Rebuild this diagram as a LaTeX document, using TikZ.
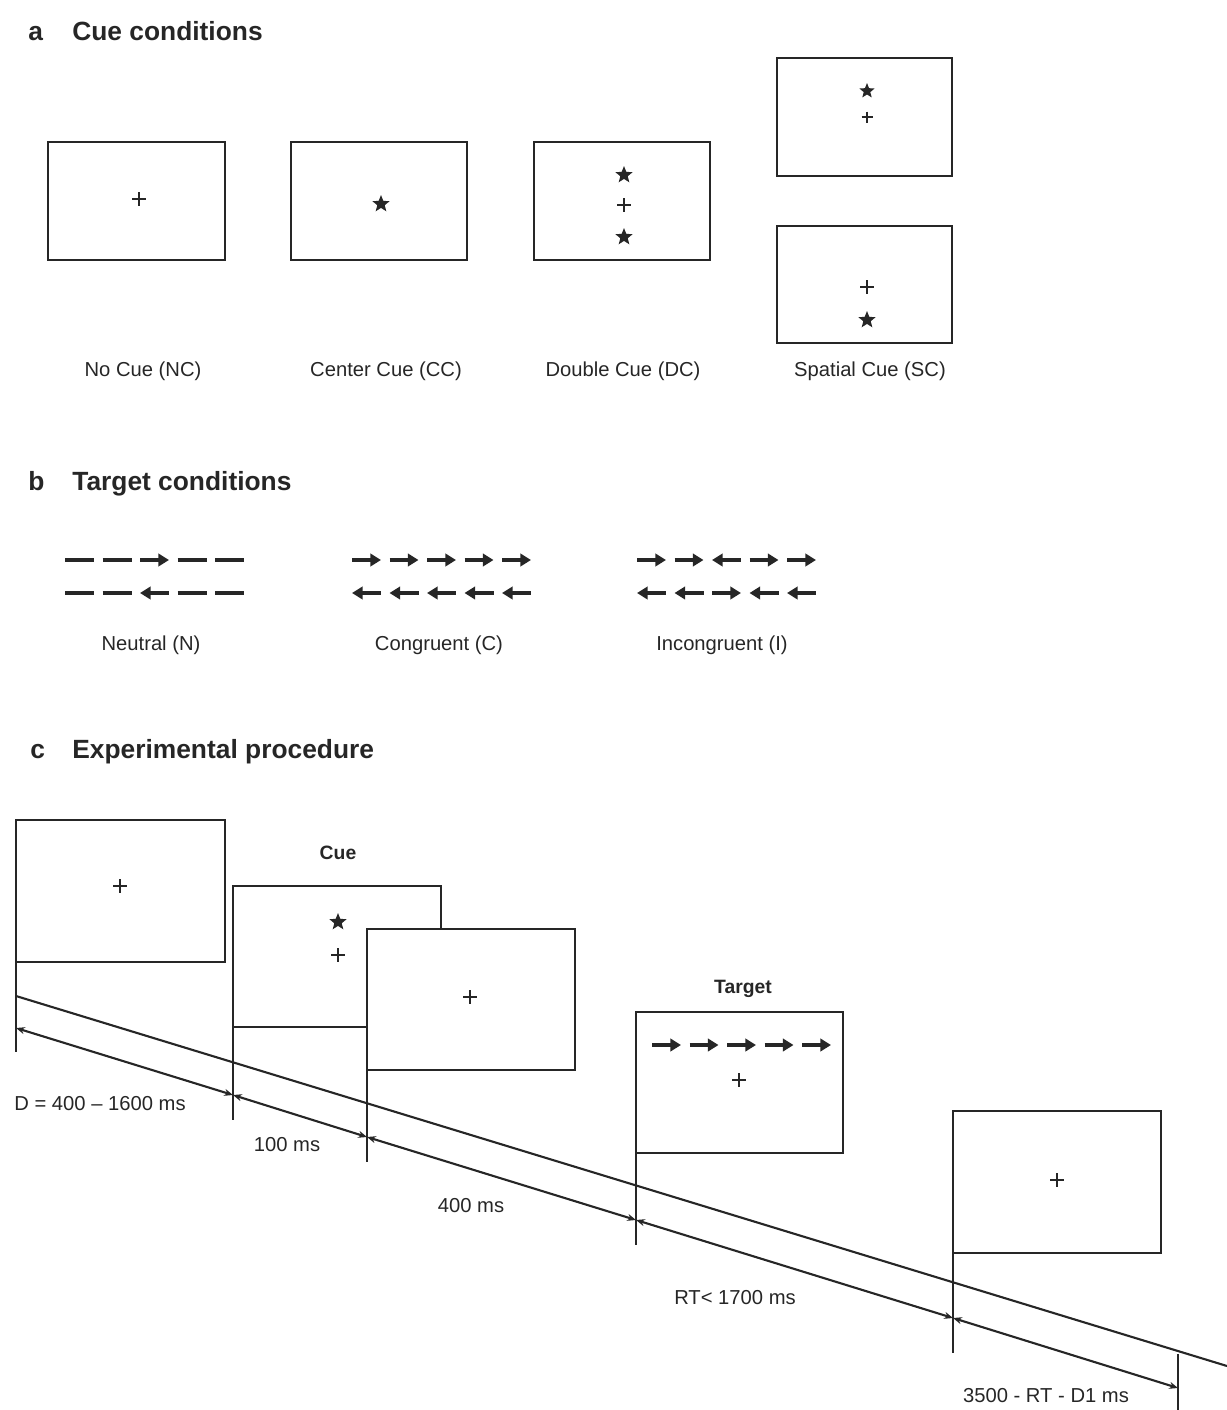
\documentclass[tikz,border=0pt]{standalone}
\usepackage{fontspec}
\setmainfont{Liberation Sans}
\usetikzlibrary{arrows.meta,shapes.geometric}
\newcommand\plusat[3]{\draw[pls] (#1-#3,#2) -- (#1+#3,#2) (#1,#2-#3) -- (#1,#2+#3);}
\newcommand\flankrow[3]{\foreach \s [count=\i from 0] in {#3} {\draw[fk,\s] ({#1+\i*37.5},#2) -- ++(29,0);}}
\newcommand\scrn[5]{\node[scr, minimum width={(#4-#2)*0.02cm}, minimum height={(#5-#3)*0.02cm}] (#1) at ({(#2+#4)/2},{(#3+#5)/2}) {};}
\begin{document}
\begin{tikzpicture}[x=0.02cm,y=-0.02cm,
  scr/.style={draw=black!85, line width=1.3pt, fill=white, inner sep=0pt, outer sep=0pt},
  lbl/.style={font=\fontsize{11.5}{13}\selectfont, text=black!85, inner sep=0pt, anchor=base},
  blbl/.style={font=\fontsize{11}{13}\selectfont\bfseries, text=black!85, inner sep=0pt, anchor=base},
  hd/.style={font=\fontsize{15}{18}\selectfont\bfseries, text=black!85, inner sep=0pt, anchor=base west},
  st/.style={star, star points=5, star point ratio=2.3, fill=black!85, draw=none, inner sep=0pt, minimum size=0.36cm},
  sst/.style={st, minimum size=0.32cm},
  pls/.style={line width=1.4pt, draw=black!85},
  fk/.style={line width=1.8pt, draw=black!85},
  fr/.style={-{Triangle[length=6pt,width=7pt]}},
  fl/.style={{Triangle[length=6pt,width=7pt]}-},
  fn/.style={},
  tl/.style={line width=1.2pt, draw=black!85},
  dur/.style={tl, {Stealth[length=5pt,width=4pt]}-{Stealth[length=5pt,width=4pt]}}]
\useasboundingbox (0,0) rectangle (1227,1410);

% ---------- a ----------
\node[hd] (ha) at (28,40) {a};
\node[hd] (hat) at (72,40) {Cue conditions};
\scrn{nc}{48}{142}{225}{260}
\scrn{cc}{291}{142}{467}{260}
\scrn{dc}{534}{142}{710}{260}
\scrn{sct}{777}{58}{952}{176}
\scrn{scb}{777}{226}{952}{343}
\plusat{139}{199}{7}
\node[st] (s1) at (381,204) {};
\node[st] (s2) at (624,175) {};
\plusat{624}{205}{7}
\node[st] (s3) at (624,237) {};
\node[sst] (s4) at (867,91) {};
\plusat{867}{117}{5.5}
\plusat{867}{287}{7}
\node[st] (s5) at (867,320) {};
\node[lbl] (lnc) at (143,376) {No Cue (NC)};
\node[lbl] (lcc) at (386,376) {Center Cue (CC)};
\node[lbl] (ldc) at (623,376) {Double Cue (DC)};
\node[lbl] (lsc) at (870,376) {Spatial Cue (SC)};

% ---------- b ----------
\node[hd] (hb) at (28,490) {b};
\node[hd] (hbt) at (72,490) {Target conditions};
\flankrow{65}{560}{fn,fn,fr,fn,fn}
\flankrow{65}{593}{fn,fn,fl,fn,fn}
\flankrow{352}{560}{fr,fr,fr,fr,fr}
\flankrow{352}{593}{fl,fl,fl,fl,fl}
\flankrow{637}{560}{fr,fr,fl,fr,fr}
\flankrow{637}{593}{fl,fl,fr,fl,fl}
\node[lbl] (ln) at (151,650) {Neutral (N)};
\node[lbl] (lc) at (439,650) {Congruent (C)};
\node[lbl] (li) at (722,650) {Incongruent (I)};

% ---------- c ----------
\node[hd] (hc) at (30,758) {c};
\node[hd] (hct) at (72,758) {Experimental procedure};

\scrn{f1}{16}{820}{225}{962}
\plusat{120}{886}{7}
\node[blbl] (lcue) at (338,859) {Cue};
\scrn{cue}{233}{886}{441}{1027}
\node[st] (s6) at (338,922) {};
\plusat{338}{955}{7}
\scrn{f2}{367}{929}{575}{1070}
\plusat{470}{997}{7}
\node[blbl] (ltg) at (743,993) {Target};
\scrn{tg}{636}{1012}{843}{1153}
\flankrow{652}{1045}{fr,fr,fr,fr,fr}
\plusat{739}{1080}{7}
\scrn{f3}{953}{1111}{1161}{1253}
\plusat{1057}{1180}{7}

% tick ends
\coordinate (t0) at (16,1052);
\coordinate (t1) at (233,1120);
\coordinate (t2) at (367,1162);
\coordinate (t3) at (636,1245);
\coordinate (t4) at (953,1353);
\coordinate (t5a) at (1178,1354);
\coordinate (t5b) at (1178,1410);
\draw[tl] (f1.south west) -- (t0);
\draw[tl] (cue.south west) -- (t1);
\draw[tl] (f2.south west) -- (t2);
\draw[tl] (tg.south west) -- (t3);
\draw[tl] (f3.south west) -- (t4);
\draw[tl] (t5a) -- (t5b);

% top time line
\coordinate (p0) at (16,996);
\coordinate (p1) at (1227,1366);
\draw[tl] (p0) -- (p1);

% duration arrows
\coordinate (a0) at (16,1028);
\coordinate (a1) at (233,1095);
\coordinate (a2) at (367,1137);
\coordinate (a3) at (636,1220);
\coordinate (a4) at (953,1318);
\coordinate (a5) at (1178,1388);
\draw[dur] (a0) -- (a1);
\draw[dur] (a1) -- (a2);
\draw[dur] (a2) -- (a3);
\draw[dur] (a3) -- (a4);
\draw[dur] (a4) -- (a5);

\node[lbl] (d1) at (100,1110) {D = 400 -- 1600 ms};
\node[lbl] (d2) at (287,1151) {100 ms};
\node[lbl] (d3) at (471,1212) {400 ms};
\node[lbl] (d4) at (735,1304) {RT< 1700 ms};
\node[lbl] (d5) at (1046,1402) {3500 - RT - D1 ms};
\end{tikzpicture}
\end{document}
